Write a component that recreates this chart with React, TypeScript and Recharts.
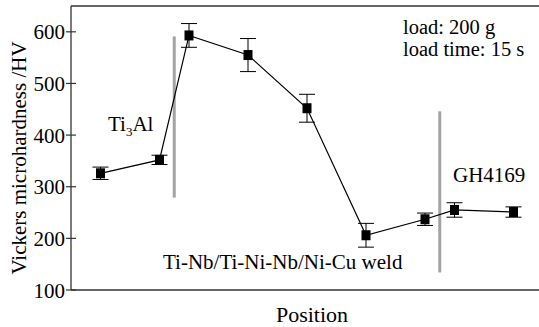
import { ErrorBar, Line, LineChart, ReferenceLine, XAxis, YAxis } from "recharts";

const positions = [0, 2, 3, 5, 7, 9, 11, 12, 14];
const hardness = [326, 352, 593, 555, 452, 206, 237, 255, 251];
const errors = [12, 9, 23, 32, 27, 23, 12, 14, 10];
const yTicks = [100, 200, 300, 400, 500, 600];
const boundaryX = [2.5, 11.5];
const boundaryLow = [279, 134];
const boundaryHigh = [591, 446];

const FONT = "Liberation Serif, Tinos, DejaVu Serif, serif";
const AXIS = "#333";

const data = positions.map((pos, i) => ({
  pos,
  hv: hardness[i],
  err: errors[i],
}));

function YTick(props: any) {
  const { x, y, payload } = props;
  const ax = x + 7; // tickSize 5 + tickMargin 2 -> back to the axis line
  return (
    <g>
      <line x1={ax - 5} x2={ax + 5} y1={y} y2={y} stroke={AXIS} strokeWidth={1.2} />
      <text
        x={ax - 6}
        y={y}
        dy={7.5}
        textAnchor="end"
        style={{ fontFamily: FONT, fontSize: 21 }}
        fill="#000"
      >
        {payload.value}
      </text>
    </g>
  );
}

function SquareDot(props: any) {
  const { cx, cy, index } = props;
  if (cx == null || cy == null) return <g key={index} />;
  return <rect key={index} x={cx - 4.5} y={cy - 5} width={9} height={10} fill="#000" />;
}

export default function App() {
  return (
    <div
      style={{
        position: "absolute",
        left: 0,
        top: 0,
        width: 539,
        height: 327,
        overflow: "hidden",
        background: "#fff",
        fontFamily: FONT,
      }}
    >
      <LineChart
        width={543}
        height={327}
        data={data}
        margin={{ top: 6, right: 0, left: 0, bottom: 0 }}
      >
        <XAxis
          type="number"
          dataKey="pos"
          domain={[-1, 15]}
          tick={false}
          tickLine={false}
          height={37}
          stroke={AXIS}
          strokeWidth={1.3}
        />
        <YAxis
          type="number"
          domain={[100, 650]}
          ticks={yTicks}
          width={71}
          tickSize={5}
          tickMargin={2}
          tickLine={false}
          tick={<YTick />}
          stroke={AXIS}
          strokeWidth={1.3}
          interval={0}
        />
        <ReferenceLine y={650} stroke={AXIS} strokeWidth={1.3} />
        {boundaryX.map((bx, i) => (
          <ReferenceLine
            key={bx}
            segment={[
              { x: bx, y: boundaryLow[i] },
              { x: bx, y: boundaryHigh[i] },
            ]}
            stroke="#a3a3a3"
            strokeWidth={3}
          />
        ))}
        <Line
          type="linear"
          dataKey="hv"
          stroke="#000"
          strokeWidth={1.2}
          dot={SquareDot}
          activeDot={false}
          isAnimationActive={false}
        >
          <ErrorBar dataKey="err" width={8} stroke="#000" strokeWidth={1} direction="y" />
        </Line>
      </LineChart>

      <svg
        width={539}
        height={327}
        style={{ position: "absolute", left: 0, top: 0, pointerEvents: "none", fontFamily: FONT }}
        fill="#000"
      >
        <text
          x={26}
          y={158}
          fontSize={21}
          textAnchor="middle"
          transform="rotate(-90, 26, 158)"
        >
          Vickers microhardness /HV
        </text>
        <text x={312} y={322} fontSize={22} textAnchor="middle">
          Position
        </text>
        <text x={108} y={131} fontSize={21}>
          Ti
          <tspan fontSize={13} dy={5}>
            3
          </tspan>
          <tspan dy={-5}>Al</tspan>
        </text>
        <text x={163} y={269} fontSize={21}>
          Ti-Nb/Ti-Ni-Nb/Ni-Cu weld
        </text>
        <text x={453} y={182} fontSize={21}>
          GH4169
        </text>
        <text x={403} y={34} fontSize={20.5}>
          load: 200 g
        </text>
        <text x={403} y={56} fontSize={20.5}>
          load time: 15 s
        </text>
      </svg>
    </div>
  );
}
